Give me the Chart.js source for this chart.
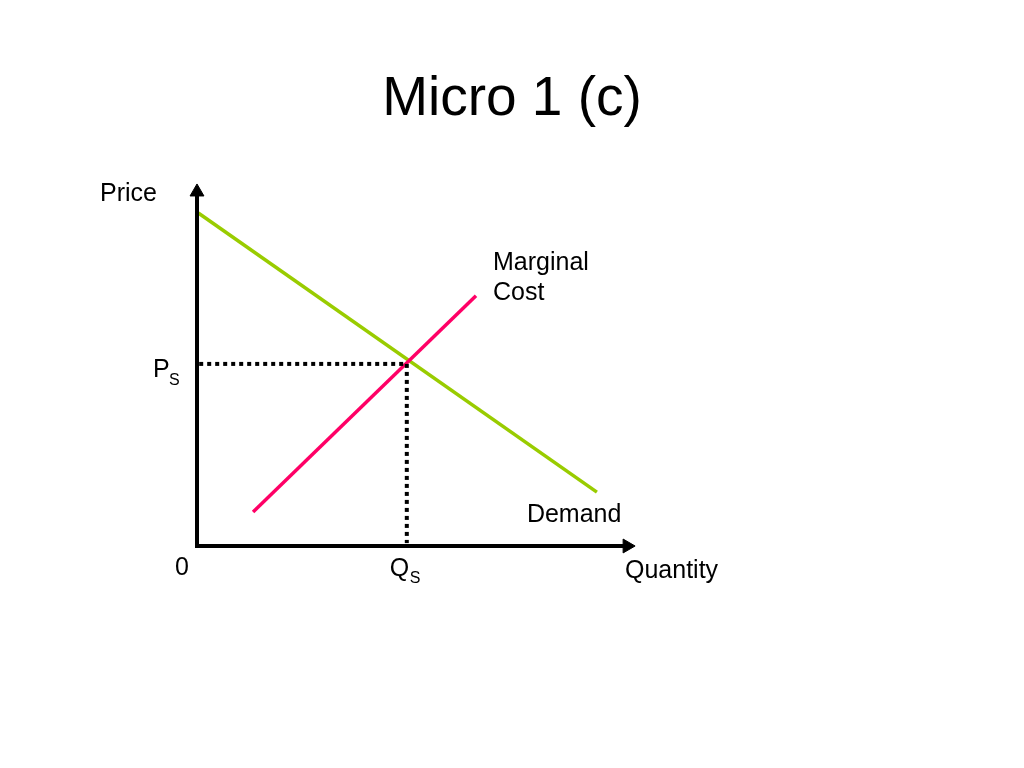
<!DOCTYPE html>
<html>
<head>
<meta charset="utf-8">
<script src="https://cdn.jsdelivr.net/npm/chart.js@4.4.1/dist/chart.umd.min.js"></script>
<style>
  html, body { margin: 0; padding: 0; background: #ffffff; }
  #wrap { width: 1024px; height: 768px; position: relative; }
</style>
</head>
<body>
<div id="wrap"><canvas id="c"></canvas></div>
<script>
// ---- Data (axis units: quantity 0..10, price 0..10) ----
const titleText = 'Micro 1 (c)';
const xAxisLabel = 'Quantity';
const yAxisLabel = 'Price';
const originLabel = '0';
const demandLabel = 'Demand';
const mcLabel = ['Marginal', 'Cost'];

const axisMax = [10, 10];            // [quantity max, price max]
const demandQ = [0.03, 9.13];
const demandP = [9.20, 1.49];
const mcQ = [1.28, 6.37];
const mcP = [0.94, 6.91];
const equilibrium = [4.79, 5.03];    // [Qs, Ps]

const toPts = (xs, ys) => xs.map((x, i) => ({ x: x, y: ys[i] }));

const FONT = '"Liberation Sans", Arial, Helvetica, sans-serif';

const labelPlugin = {
  id: 'labels',
  afterDraw(chart) {
    const { ctx, scales: { x, y } } = chart;
    const x0 = x.getPixelForValue(0);
    const y0 = y.getPixelForValue(0);
    ctx.save();
    ctx.fillStyle = '#000';
    ctx.textBaseline = 'alphabetic';
    // Title, centred on the page
    ctx.textAlign = 'center';
    ctx.font = '55px ' + FONT;
    ctx.fillText(titleText, chart.width / 2, 115);

    ctx.textAlign = 'left';
    ctx.font = '25px ' + FONT;
    // Price
    ctx.fillText(yAxisLabel, x0 - 97, y.getPixelForValue(axisMax[1]) + 17);
    // Quantity
    ctx.fillText(xAxisLabel, x.getPixelForValue(axisMax[0]) - 10, y0 + 32);
    // 0
    ctx.fillText(originLabel, x0 - 22, y0 + 29);
    // Marginal Cost
    const mcx = x.getPixelForValue(mcQ[1]) + 17;
    const mcy = y.getPixelForValue(mcP[1]);
    ctx.fillText(mcLabel[0], mcx, mcy - 26);
    ctx.fillText(mcLabel[1], mcx, mcy + 4);
    // Demand
    ctx.fillText(demandLabel, x.getPixelForValue(demandQ[1]) - 70, y.getPixelForValue(demandP[1]) + 30);
    // P_S
    const py = y.getPixelForValue(equilibrium[1]);
    ctx.fillText('P', x0 - 44, py + 13);
    ctx.font = '16px ' + FONT;
    ctx.fillText('S', x0 - 28, py + 21);
    // Q_S
    const qx = x.getPixelForValue(equilibrium[0]);
    ctx.font = '25px ' + FONT;
    ctx.fillText('Q', qx - 17, y0 + 30);
    ctx.font = '16px ' + FONT;
    ctx.fillText('S', qx + 3, y0 + 37);
    ctx.restore();
  }
};

// arrow heads placed slightly inside axis maximum so the tip lands on it
const arrowInsetX = 0.18, arrowInsetY = 0.22;

new Chart(document.getElementById('c'), {
  type: 'scatter',
  data: {
    datasets: [
      {
        label: 'Axes',
        data: [
          { x: 0, y: axisMax[1] - arrowInsetY },
          { x: 0, y: 0 },
          { x: axisMax[0] - arrowInsetX, y: 0 }
        ],
        showLine: true,
        borderColor: '#000',
        backgroundColor: '#000',
        borderWidth: 4,
        borderJoinStyle: 'miter',
        pointStyle: 'triangle',
        pointRadius: [8, 0, 8],
        pointRotation: [0, 0, 90],
        pointBorderWidth: 1,
        pointHoverRadius: 0,
        clip: false,
        order: 1
      },
      {
        label: 'Ps',
        data: [{ x: 0.05, y: equilibrium[1] }, { x: equilibrium[0], y: equilibrium[1] }],
        showLine: true,
        borderColor: '#000',
        borderWidth: 4,
        borderDash: [4, 4],
        pointRadius: 0,
        clip: false,
        order: 2
      },
      {
        label: 'Qs',
        data: [{ x: equilibrium[0], y: equilibrium[1] }, { x: equilibrium[0], y: 0.08 }],
        showLine: true,
        borderColor: '#000',
        borderWidth: 4,
        borderDash: [4, 4],
        pointRadius: 0,
        clip: false,
        order: 2
      },
      {
        label: 'Demand',
        data: toPts(demandQ, demandP),
        showLine: true,
        borderColor: '#99CC00',
        borderWidth: 3.5,
        pointRadius: 0,
        clip: false,
        order: 4
      },
      {
        label: 'Marginal Cost',
        data: toPts(mcQ, mcP),
        showLine: true,
        borderColor: '#FF0066',
        borderWidth: 3.5,
        pointRadius: 0,
        clip: false,
        order: 3
      }
    ]
  },
  options: {
    responsive: true,
    maintainAspectRatio: false,
    animation: false,
    events: [],
    layout: { padding: { left: 197, right: 389, top: 184, bottom: 222 } },
    plugins: {
      legend: { display: false },
      tooltip: { enabled: false },
      title: { display: false }
    },
    scales: {
      x: { type: 'linear', min: 0, max: axisMax[0], display: false },
      y: { type: 'linear', min: 0, max: axisMax[1], display: false }
    }
  },
  plugins: [labelPlugin]
});
</script>
</body>
</html>
